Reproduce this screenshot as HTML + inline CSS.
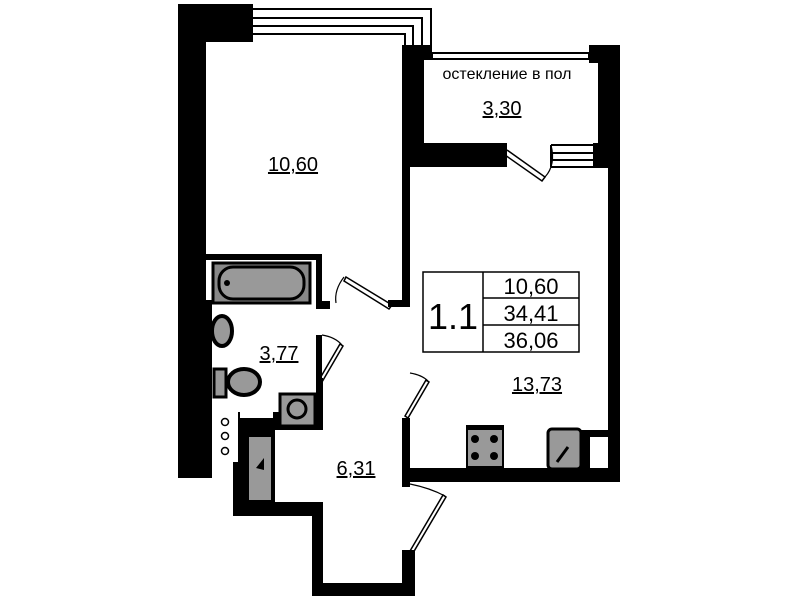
<!DOCTYPE html>
<html><head><meta charset="utf-8"><style>
html,body{margin:0;padding:0;background:#fff;width:799px;height:600px;overflow:hidden}
svg{display:block}
text{font-family:"Liberation Sans",sans-serif;fill:#000}
</style></head><body>
<svg width="799" height="600" viewBox="0 0 799 600">
<g fill="#000">
<rect x="178" y="4" width="28" height="474"/>
<rect x="178" y="300" width="34" height="178"/>
<rect x="178" y="4" width="75" height="38"/>
<rect x="402" y="45" width="30" height="15"/>
<rect x="402" y="45" width="22" height="122"/>
<rect x="402" y="143" width="105" height="24"/>
<rect x="402" y="160" width="8" height="147"/>
<rect x="402" y="418" width="8" height="64"/>
<rect x="388" y="300" width="22" height="7"/>
<rect x="589" y="45" width="31" height="18"/>
<rect x="598" y="45" width="22" height="123"/>
<rect x="593" y="143" width="27" height="25"/>
<rect x="608" y="160" width="12" height="322"/>
<rect x="402" y="468" width="218" height="14"/>
<rect x="580" y="430" width="40" height="52"/>
<rect x="466" y="425" width="38" height="50"/>
<rect x="205" y="254" width="117" height="6"/>
<rect x="316" y="254" width="6" height="50"/>
<rect x="316" y="301" width="14" height="8"/>
<rect x="316" y="335" width="6" height="48"/>
<rect x="316" y="378" width="7" height="50"/>
<rect x="238" y="412" width="85" height="18"/>
<rect x="233" y="425" width="42" height="90"/>
<rect x="233" y="502" width="90" height="14"/>
<rect x="312" y="502" width="11" height="94"/>
<rect x="312" y="583" width="103" height="13"/>
<rect x="402" y="550" width="13" height="46"/>
<rect x="402" y="482" width="8" height="5"/>
</g>
<g fill="none" stroke="#000" stroke-width="2">
<path d="M253 9 H431 V52"/>
<path d="M253 18 H422 V52"/>
<path d="M253 26 H413 V52"/>
<path d="M253 34 H405 V46"/>
<rect x="432" y="53" width="157" height="6"/>
<path d="M551 145 H593 M551 153 H593 M551 160 H593 M551 167 H593 M551 145 V167"/>
<path d="M507 150 L545 177 L542 181 L505 155" stroke-width="1.5"/>
<path d="M545 177 Q556 165 551 145" stroke-width="1.2"/>
<path d="M346 277 L392 305 L389 309 L344 281Z" stroke-width="1.5"/>
<path d="M344 277 Q334 290 336 303" stroke-width="1.2"/>
<path d="M343 346 L322 382 L319 380 L340 344Z" stroke-width="1.5"/>
<path d="M322 335 Q335 337 342 345" stroke-width="1.2"/>
<path d="M429 382 L408 418 L405 416 L426 380Z" stroke-width="1.5"/>
<path d="M410 373 Q422 375 428 381" stroke-width="1.2"/>
<path d="M446 497 L413 553 L410 551 L443 495Z" stroke-width="1.5"/>
<path d="M410 484 Q430 488 445 496" stroke-width="1.2"/>
</g>
<rect x="213" y="263" width="97" height="40" fill="#888" stroke="#000" stroke-width="3"/>
<rect x="219" y="267" width="85" height="32" rx="14" fill="#999" stroke="#000" stroke-width="3"/>
<circle cx="227" cy="283" r="3" fill="#000"/>
<ellipse cx="222" cy="331" rx="10" ry="15" fill="#999" stroke="#000" stroke-width="4"/>
<rect x="214" y="369" width="12" height="28" fill="#999" stroke="#000" stroke-width="3"/>
<ellipse cx="244" cy="382" rx="16" ry="13" fill="#999" stroke="#000" stroke-width="4"/>
<rect x="212" y="412" width="26" height="50" fill="#fff"/>
<g fill="none" stroke="#000" stroke-width="1.5"><circle cx="225" cy="422" r="3.5"/><circle cx="225" cy="436" r="3.5"/><circle cx="225" cy="451" r="3.5"/></g>
<rect x="240" y="412" width="33" height="6" fill="#fff"/>
<rect x="280" y="394" width="35" height="32" fill="#999" stroke="#000" stroke-width="3"/>
<circle cx="297" cy="409" r="9" fill="none" stroke="#000" stroke-width="3"/>
<rect x="249" y="437" width="22" height="63" fill="#999"/>
<path d="M264 458 L256 468 L264 470 Z" fill="#000"/>
<rect x="468" y="430" width="34" height="36" fill="#999"/>
<g fill="#000"><circle cx="475" cy="439" r="4"/><circle cx="494" cy="439" r="4"/><circle cx="475" cy="456" r="4"/><circle cx="494" cy="456" r="4"/></g>
<rect x="548" y="429" width="33" height="40" rx="4" fill="#999" stroke="#000" stroke-width="3"/>
<path d="M557 462 L568 447" stroke="#000" stroke-width="3"/>
<rect x="590" y="437" width="18" height="31" fill="#fff"/>
<g fill="none" stroke="#000" stroke-width="1.5">
<rect x="423" y="272" width="156" height="80"/>
<path d="M483 272 V352 M483 298 H579 M483 325 H579"/>
</g>
<text x="453" y="329" font-size="36" text-anchor="middle">1.1</text>
<text x="531" y="294" font-size="22" text-anchor="middle">10,60</text>
<text x="531" y="321" font-size="22" text-anchor="middle">34,41</text>
<text x="531" y="348" font-size="22" text-anchor="middle">36,06</text>
<text x="293" y="171" font-size="20" text-anchor="middle" text-decoration="underline">10,60</text>
<text x="502" y="115" font-size="20" text-anchor="middle" text-decoration="underline">3,30</text>
<text x="279" y="360" font-size="20" text-anchor="middle" text-decoration="underline">3,77</text>
<text x="537" y="391" font-size="20" text-anchor="middle" text-decoration="underline">13,73</text>
<text x="356" y="475" font-size="20" text-anchor="middle" text-decoration="underline">6,31</text>
<text x="507" y="79" font-size="16" text-anchor="middle">остекление в пол</text>
</svg>
</body></html>
